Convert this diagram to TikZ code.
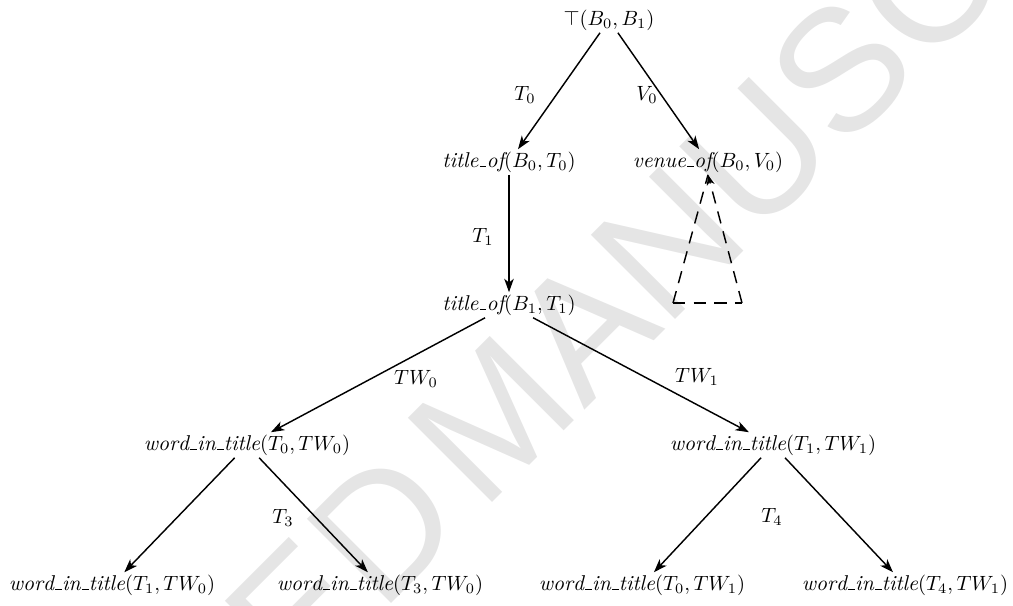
\documentclass[tikz,border=0pt]{standalone}
\usepackage{fontspec}
\newfontfamily\wmfont{Liberation Sans}
\usetikzlibrary{arrows.meta,calc}
\newcommand{\usc}{\kern.06em\vbox{\hrule width.3em height .5pt}\kern.02em}
\begin{document}
\begin{tikzpicture}[x=0.4854pt,y=-0.4854pt,
  term/.style={inner sep=1pt,font=\fontsize{10.4pt}{12pt}\selectfont},
  lbl/.style={inner sep=0pt,font=\fontsize{10.4pt}{12pt}\selectfont},
  arr/.style={line width=0.7pt,-{Stealth[length=6.5pt,width=4.6pt,inset=1.8pt]}},
  dsh/.style={line width=0.7pt,dash pattern=on 6pt off 4pt},
  wm/.style={text=black!10,font=\wmfont\fontsize{84pt}{84pt}\selectfont,inner sep=0pt,rotate=45}]
\useasboundingbox (0,0) rectangle (1013,606);
% watermark
\node[wm,anchor=base east] (wma) at (470,525) {ACCEPTED};
\node[wm,anchor=base west] (wmb) at (482,513) {MANUSCRIPT};
% nodes
\node[term] (top) at (609,20) {$\top(B_0,B_1)$};
\node[term] (t0) at (509,162) {$\mathit{title\usc of}(B_0,T_0)$};
\node[term] (venue) at (708,162) {$\mathit{venue\usc of}(B_0,V_0)$};
\node[term] (t1) at (509,305) {$\mathit{title\usc of}(B_1,T_1)$};
\node[term] (w0) at (247,445) {$\mathit{word\usc in\usc title}(T_0,TW_0)$};
\node[term] (w1) at (773,445) {$\mathit{word\usc in\usc title}(T_1,TW_1)$};
\node[term] (l1) at (112,585) {$\mathit{word\usc in\usc title}(T_1,TW_0)$};
\node[term] (l2) at (380,585) {$\mathit{word\usc in\usc title}(T_3,TW_0)$};
\node[term] (l3) at (642,585) {$\mathit{word\usc in\usc title}(T_0,TW_1)$};
\node[term] (l4) at (905,585) {$\mathit{word\usc in\usc title}(T_4,TW_1)$};
% edges
\draw[arr] (top) -- (t0);
\draw[arr] (top) -- (venue);
\draw[arr] (t0) -- (t1);
\draw[arr] (t1) -- (w0);
\draw[arr] (t1) -- (w1);
\draw[arr] (w0) -- (l1);
\draw[arr] (w0) -- (l2);
\draw[arr] (w1) -- (l3);
\draw[arr] (w1) -- (l4);
% labels
\node[lbl] (lT0) at (525,95) {$T_0$};
\node[lbl] (lV0) at (647,95) {$V_0$};
\node[lbl] (lT1) at (483,237) {$T_1$};
\node[lbl] (lTW0) at (416,379) {$TW_0$};
\node[lbl] (lTW1) at (697,377) {$TW_1$};
\node[lbl] (lT3) at (283,518) {$T_3$};
\node[lbl] (lT4) at (772,517) {$T_4$};
% dashed subtree
\coordinate (apex) at (venue.south);
\coordinate (bl) at (673,303);
\coordinate (br) at (742,303);
\draw[dsh] (bl) -- (br);
\draw[dsh] (bl) -- (apex);
\draw[dsh,-{Stealth[length=5pt,width=3.8pt,inset=1.4pt]}] (br) -- (apex);
\end{tikzpicture}
\end{document}
